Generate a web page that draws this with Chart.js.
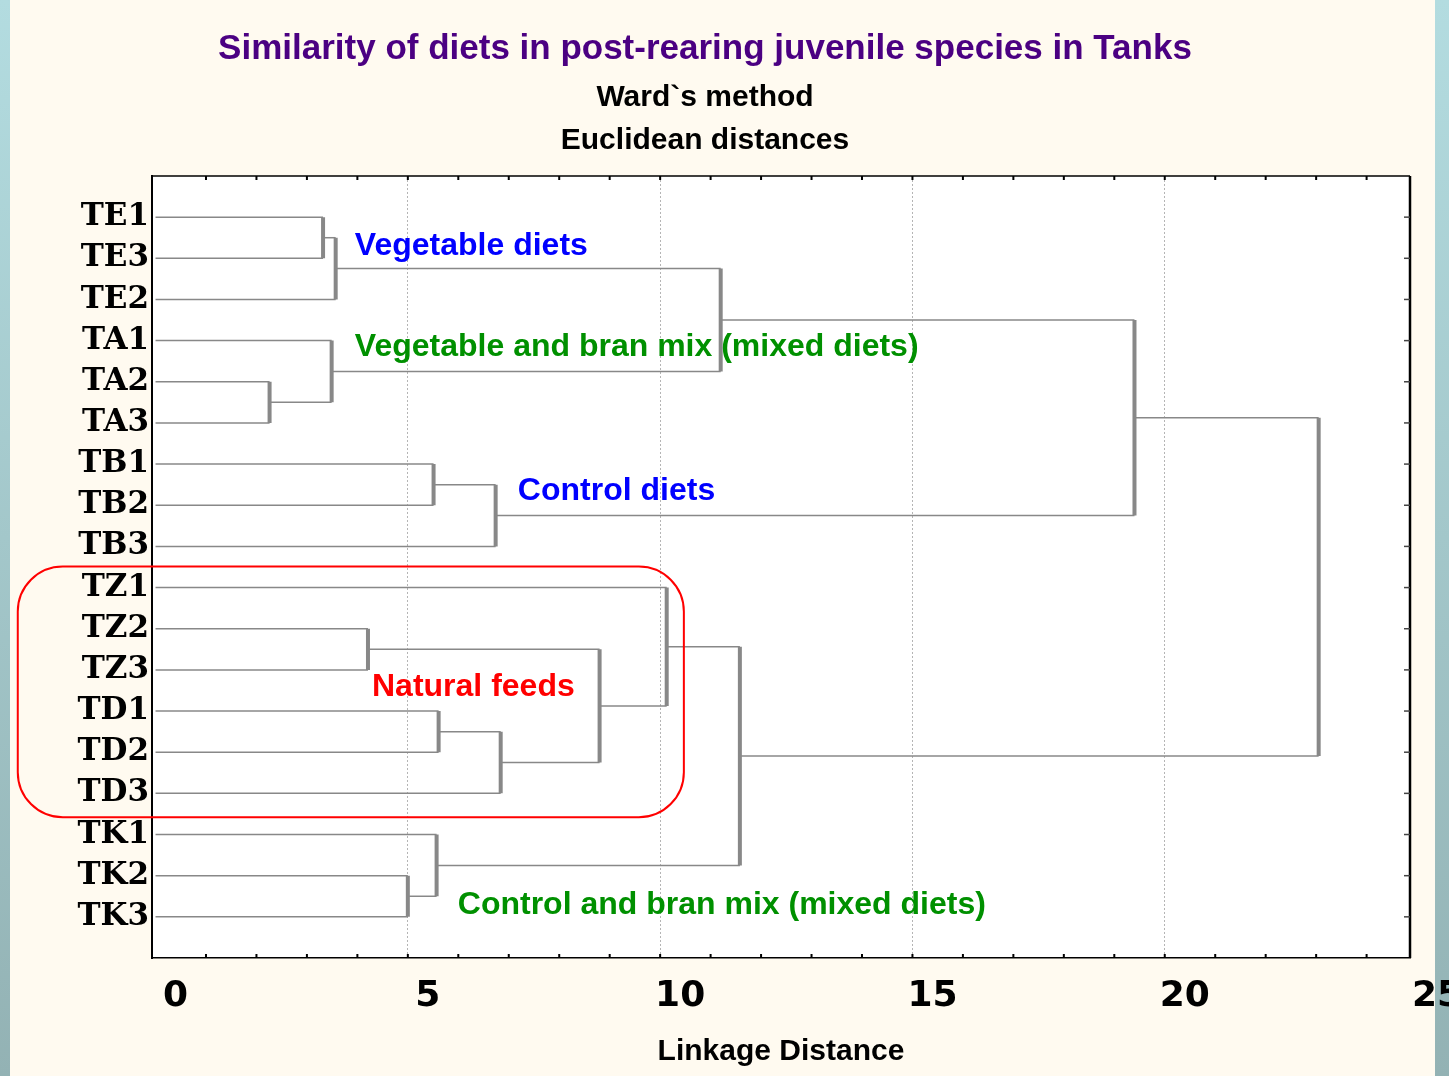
<!doctype html>
<html lang="en">
<head>
<meta charset="utf-8">
<title>Tree diagram - Ward's method</title>
<script src="https://cdn.jsdelivr.net/npm/chart.js@4.4.1/dist/chart.umd.min.js"></script>
<style>
  html, body { margin: 0; padding: 0; overflow: hidden; background: #fffaf0; }
  canvas { display: block; }
</style>
</head>
<body>
<canvas id="tree" width="1449" height="1076"></canvas>
<script>
// leaves, top to bottom
var leafLabels = ['TE1', 'TE3', 'TE2', 'TA1', 'TA2', 'TA3', 'TB1', 'TB2', 'TB3',
                  'TZ1', 'TZ2', 'TZ3', 'TD1', 'TD2', 'TD3', 'TK1', 'TK2', 'TK3'];

// linkage: node ids 0..17 are leaves, merge i creates node 18+i
var mergeLeft   = [0, 18, 4, 3, 19, 6, 23, 22, 10, 12, 27, 26, 9, 16, 15, 30, 25];
var mergeRight  = [1, 2, 5, 20, 21, 7, 8, 24, 11, 13, 14, 28, 29, 17, 31, 32, 33];
var mergeHeight = [3.32, 3.57, 2.26, 3.49, 11.2, 5.51, 6.74, 19.4, 4.21, 5.61, 6.84, 8.8, 10.13, 5.0, 5.57, 11.58, 23.05];

var xTicks = [0, 5, 10, 15, 20, 25];

// group labels (x in linkage distance, y in leaf rows)
var groupText  = ['Vegetable diets', 'Vegetable and bran mix (mixed diets)', 'Control diets', 'Natural feeds', 'Control and bran mix (mixed diets)'];
var groupX     = [3.95, 3.95, 7.18, 4.29, 5.99];
var groupY     = [1.70, 4.17, 7.65, 12.43, 17.72];
var groupColor = ['#0000ff', '#009000', '#0000ff', '#ff0000', '#009000'];

// node positions built from the linkage
var nodeX = [], nodeY = [];
leafLabels.forEach(function(l, i) { nodeX.push(0); nodeY.push(i + 1); });
var datasets = [];
mergeHeight.forEach(function(h, i) {
	var a = mergeLeft[i], b = mergeRight[i];
	datasets.push({
		data: [
			{x: nodeX[a], y: nodeY[a]},
			{x: h, y: nodeY[a]},
			{x: h, y: nodeY[b]},
			{x: nodeX[b], y: nodeY[b]}
		],
		showLine: true,
		borderColor: '#888888',
		borderWidth: 1.5,
		pointRadius: 0,
		segment: {
			borderWidth: function(ctx) { return ctx.p0.parsed.x === ctx.p1.parsed.x ? 4 : 1.5; }
		}
	});
	nodeX.push(h);
	nodeY.push((nodeY[a] + nodeY[b]) / 2);
});

var pagePlugin = {
	id: 'page',
	beforeDraw: function(chart) {
		var c = chart.ctx, w = chart.width, h = chart.height, a = chart.chartArea;
		c.save();
		c.fillStyle = '#fffaf0';
		c.fillRect(0, 0, w, h);
		var g = c.createLinearGradient(0, 0, 0, h);
		g.addColorStop(0, '#b3dce0');
		g.addColorStop(1, '#93b2b4');
		c.fillStyle = g;
		c.fillRect(0, 0, 10, h);
		c.fillRect(1435, 0, w - 1435, h);
		c.fillStyle = '#ffffff';
		c.fillRect(a.left, a.top, a.right - a.left, a.bottom - a.top);
		c.restore();
	},
	afterDatasetsDraw: function(chart) {
		var c = chart.ctx, a = chart.chartArea;
		var xs = chart.scales.x, ys = chart.scales.y;
		c.save();
		// frame
		c.strokeStyle = '#000000';
		c.lineWidth = 1.5;
		c.beginPath();
		c.moveTo(a.left, a.top); c.lineTo(a.right, a.top);
		c.stroke();
		c.lineWidth = 2.5;
		c.beginPath();
		c.moveTo(a.right, a.top); c.lineTo(a.right, a.bottom);
		c.stroke();
		// minor ticks top / bottom
		c.lineWidth = 2;
		for (var v = 1; v < 25; v++) {
			var px = xs.getPixelForValue(v);
			if (px >= a.right - 2) break;
			c.beginPath();
			c.moveTo(px, a.top); c.lineTo(px, a.top + 4);
			c.moveTo(px, a.bottom); c.lineTo(px, a.bottom - 4);
			c.stroke();
		}
		// leaf ticks right side
		c.strokeStyle = '#444444';
		c.lineWidth = 1.5;
		for (var i = 1; i <= leafLabels.length; i++) {
			var py = ys.getPixelForValue(i);
			c.beginPath();
			c.moveTo(a.right - 6, py); c.lineTo(a.right, py);
			c.stroke();
		}
		// group box
		var bx0 = xs.getPixelForValue(-2.73), bx1 = xs.getPixelForValue(10.47);
		var by0 = ys.getPixelForValue(9.49), by1 = ys.getPixelForValue(15.58);
		c.strokeStyle = '#ff0000';
		c.lineWidth = 2;
		c.beginPath();
		c.roundRect(bx0, by0, bx1 - bx0, by1 - by0, 45);
		c.stroke();
		// group labels
		c.font = 'bold 32px "Liberation Sans", Arial, sans-serif';
		c.textBaseline = 'middle';
		c.textAlign = 'left';
		groupText.forEach(function(t, k) {
			c.fillStyle = groupColor[k];
			c.fillText(t, xs.getPixelForValue(groupX[k]), ys.getPixelForValue(groupY[k]));
		});
		c.restore();
	}
};

new Chart(document.getElementById('tree'), {
	type: 'scatter',
	data: { datasets: datasets },
	plugins: [pagePlugin],
	options: {
		responsive: false,
		animation: false,
		layout: { padding: { left: 0, right: 39, top: 0, bottom: 0 } },
		plugins: {
			legend: { display: false },
			tooltip: { enabled: false },
			title: {
				display: true,
				text: 'Similarity of diets in post-rearing juvenile species in Tanks',
				color: '#4b0082',
				font: { family: '"Liberation Sans", Arial, sans-serif', size: 35, weight: 'bold', lineHeight: 1.2 },
				padding: { top: 28, bottom: 0 }
			},
			subtitle: {
				display: true,
				text: ['Ward`s method', 'Euclidean distances'],
				color: '#000000',
				font: { family: '"Liberation Sans", Arial, sans-serif', size: 30, weight: 'bold', lineHeight: 1.433 },
				padding: { top: 6, bottom: 14 }
			}
		},
		scales: {
			x: {
				type: 'linear',
				min: -0.07,
				max: 24.86,
				afterBuildTicks: function(scale) {
					var t = [];
					for (var v = 0; v <= 25; v++) t.push({ value: v });
					scale.ticks = t;
				},
				afterFit: function(scale) {
					scale.height = 118;
					scale.paddingLeft = 0;
					scale.paddingRight = 0;
				},
				ticks: {
					autoSkip: false,
					maxRotation: 0,
					padding: 17,
					labelOffset: 20,
					color: '#000000',
					font: { family: '"DejaVu Sans", sans-serif', size: 36, weight: 'bold' },
					callback: function(v) { return xTicks.indexOf(v) >= 0 ? String(v) : ''; }
				},
				grid: {
					drawTicks: false,
					color: function(ctx) {
						var v = ctx.tick ? ctx.tick.value : 0;
						return (v % 5 === 0 && v > 0 && v < 25) ? '#b4b4b4' : 'rgba(0,0,0,0)';
					},
					lineWidth: 1
				},
				border: { display: true, color: '#000000', width: 1.5, dash: [2, 2] },
				title: {
					display: true,
					text: 'Linkage Distance',
					color: '#000000',
					font: { family: '"Liberation Sans", Arial, sans-serif', size: 30, weight: 'bold', lineHeight: 1.2 },
					padding: { top: 0, bottom: 6 }
				}
			},
			y: {
				type: 'linear',
				reverse: true,
				min: 0,
				max: 19,
				afterBuildTicks: function(scale) {
					scale.ticks = leafLabels.map(function(l, i) { return { value: i + 1 }; });
				},
				afterFit: function(scale) { scale.width = 152; },
				ticks: {
					autoSkip: false,
					padding: 3,
					color: '#000000',
					font: { family: '"DejaVu Serif", serif', size: 31, weight: 'bold' },
					callback: function(v) { return leafLabels[v - 1]; }
				},
				grid: { display: false, drawTicks: false },
				border: { display: true, color: '#000000', width: 2 }
			}
		}
	}
});
</script>
</body>
</html>
